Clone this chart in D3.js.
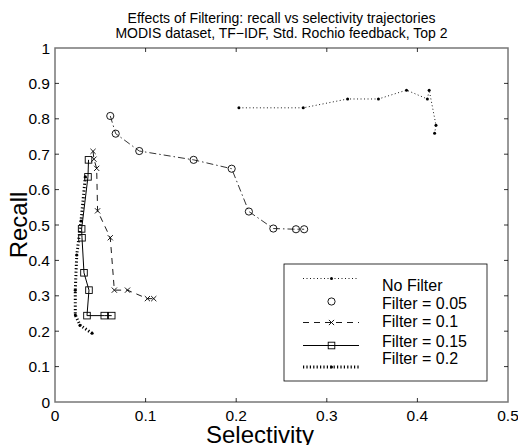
<!DOCTYPE html>
<html>
<head>
<meta charset="utf-8">
<script src="https://cdnjs.cloudflare.com/ajax/libs/d3/7.8.5/d3.min.js"></script>
<style>
  body { margin: 0; background: #fff; }
  text { font-family: "Liberation Sans", Arial, sans-serif; fill: #000; }
</style>
</head>
<body>
<svg id="chart" width="518" height="445"></svg>
<script>
var W = 518, H = 445;

// values
var noFilterSel = [0.203, 0.274, 0.323, 0.357, 0.388, 0.411, 0.413, 0.4205, 0.419];
var noFilterRec = [0.831, 0.831, 0.856, 0.856, 0.881, 0.856, 0.881, 0.782, 0.759];

var f05Sel = [0.061, 0.067, 0.093, 0.153, 0.195, 0.214, 0.241, 0.266, 0.275];
var f05Rec = [0.808, 0.758, 0.709, 0.684, 0.659, 0.538, 0.490, 0.488, 0.488];

var f10Sel = [0.042, 0.043, 0.046, 0.047, 0.061, 0.0655, 0.080, 0.102, 0.109];
var f10Rec = [0.708, 0.686, 0.660, 0.540, 0.464, 0.316, 0.316, 0.292, 0.292];

var f15Sel = [0.037, 0.0364, 0.0294, 0.0298, 0.032, 0.0375, 0.0353, 0.0544, 0.0626];
var f15Rec = [0.684, 0.636, 0.489, 0.464, 0.365, 0.316, 0.244, 0.244, 0.244];

var f20Sel = [0.0335, 0.0287, 0.024, 0.0224, 0.0224, 0.0276, 0.041];
var f20Rec = [0.636, 0.511, 0.415, 0.316, 0.246, 0.217, 0.194];

var legendLabels = ["No Filter", "Filter = 0.05", "Filter = 0.1", "Filter = 0.15", "Filter = 0.2"];
var xTicks = [0, 0.1, 0.2, 0.3, 0.4, 0.5];
var yTicks = [0, 0.1, 0.2, 0.3, 0.4, 0.5, 0.6, 0.7, 0.8, 0.9, 1];

var titleLines = ["Effects of Filtering: recall vs selectivity trajectories",
                  "MODIS dataset, TF\u2212IDF, Std. Rochio feedback, Top 2"];

var pLeft = 55, pRight = 508, pTop = 48, pBottom = 402;
var x = d3.scaleLinear().domain([0, 0.5]).range([pLeft, pRight]);
var y = d3.scaleLinear().domain([0, 1]).range([pBottom, pTop]);

var svg = d3.select("#chart");
var axisCol = "#777";

function addText(parent, str, tx, ty, size, anchor) {
  return parent.append("text")
    .attr("x", tx).attr("y", ty)
    .attr("text-anchor", anchor || "start")
    .style("font-size", size + "px")
    .text(str);
}

// series styles
var series = [
  {sel: noFilterSel, rec: noFilterRec, dash: "1,2.5", width: 0.9, marker: "dot", showLine: true},
  {sel: f05Sel, rec: f05Rec, dash: "7,3,1.5,3", width: 0.8, marker: "circle", showLine: false},
  {sel: f10Sel, rec: f10Rec, dash: "6,5", width: 0.9, marker: "x", showLine: true},
  {sel: f15Sel, rec: f15Rec, dash: null, width: 1, marker: "square", showLine: true},
  {sel: f20Sel, rec: f20Rec, dash: "1.2,2.2", width: 3, marker: "dot", showLine: true}
];

// frame
svg.append("rect")
  .attr("x", pLeft).attr("y", pTop)
  .attr("width", pRight - pLeft).attr("height", pBottom - pTop)
  .attr("fill", "none").attr("stroke", axisCol).attr("stroke-width", 1.5);

// ticks (inward, on all four sides)
var tl = 4;
xTicks.slice(1, -1).forEach(function(t) {
  svg.append("line").attr("x1", x(t)).attr("x2", x(t)).attr("y1", pBottom).attr("y2", pBottom - tl)
    .attr("stroke", "#000").attr("stroke-width", 0.8);
  svg.append("line").attr("x1", x(t)).attr("x2", x(t)).attr("y1", pTop).attr("y2", pTop + tl)
    .attr("stroke", "#000").attr("stroke-width", 0.8);
});
yTicks.slice(1, -1).forEach(function(t) {
  svg.append("line").attr("x1", pLeft).attr("x2", pLeft + tl).attr("y1", y(t)).attr("y2", y(t))
    .attr("stroke", "#000").attr("stroke-width", 0.8);
  svg.append("line").attr("x1", pRight).attr("x2", pRight - tl).attr("y1", y(t)).attr("y2", y(t))
    .attr("stroke", "#000").attr("stroke-width", 0.8);
});

// tick labels
xTicks.forEach(function(t) {
  addText(svg, d3.format("")(t), x(t), 421, 15.5, "middle");
});
yTicks.forEach(function(t) {
  addText(svg, d3.format("")(t), pLeft - 5, y(t) + 5.5, 15.5, "end");
});

// axis labels
addText(svg, "Selectivity", 260, 443, 24, "middle");

svg.append("text")
  .attr("transform", "translate(27," + ((pTop + pBottom) / 2) + ") rotate(-90)")
  .attr("text-anchor", "middle")
  .style("font-size", "24px")
  .text("Recall");

// title
titleLines.forEach(function(t, i) {
  addText(svg, t, (pLeft + pRight) / 2, 23 + i * 15, 14, "middle");
});

function drawMarker(g, kind, cx, cy) {
  if (kind === "dot") {
    g.append("circle").attr("cx", cx).attr("cy", cy).attr("r", 1.5).attr("fill", "#000");
  } else if (kind === "circle") {
    g.append("circle").attr("cx", cx).attr("cy", cy).attr("r", 3.6)
      .attr("fill", "none").attr("stroke", "#000").attr("stroke-width", 0.9);
  } else if (kind === "square") {
    g.append("rect").attr("x", cx - 3.3).attr("y", cy - 3.3).attr("width", 6.6).attr("height", 6.6)
      .attr("fill", "none").attr("stroke", "#000").attr("stroke-width", 0.9);
  } else if (kind === "x") {
    var s = 2.6;
    g.append("path").attr("d", "M" + (cx - s) + "," + (cy - s) + "L" + (cx + s) + "," + (cy + s) +
      "M" + (cx - s) + "," + (cy + s) + "L" + (cx + s) + "," + (cy - s))
      .attr("stroke", "#000").attr("stroke-width", 0.9);
  }
}

var line = d3.line().x(function(d) { return x(d[0]); }).y(function(d) { return y(d[1]); });

series.forEach(function(s) {
  var pts = d3.zip(s.sel, s.rec);
  var g = svg.append("g");
  g.append("path").datum(pts)
    .attr("d", line)
    .attr("fill", "none")
    .attr("stroke", "#000")
    .attr("stroke-width", s.width)
    .attr("stroke-dasharray", s.dash);
  pts.forEach(function(p) { drawMarker(g, s.marker, x(p[0]), y(p[1])); });
});

// legend
var lg = svg.append("g");
lg.append("rect").attr("x", 284).attr("y", 264).attr("width", 203).attr("height", 117)
  .attr("fill", "#fff").attr("stroke", "#000").attr("stroke-width", 0.8);
var sampleY = [278.5, 301.5, 322.5, 345.5, 367];
var textY = [291, 309, 327, 347, 364];
series.forEach(function(s, i) {
  if (s.showLine) {
    lg.append("line").attr("x1", 303).attr("x2", 359).attr("y1", sampleY[i]).attr("y2", sampleY[i])
      .attr("stroke", "#000").attr("stroke-width", s.width).attr("stroke-dasharray", s.dash);
  }
  drawMarker(lg, s.marker, 331.5, sampleY[i]);
  addText(lg, legendLabels[i], 382, textY[i], 16, "start");
});
</script>
</body>
</html>
